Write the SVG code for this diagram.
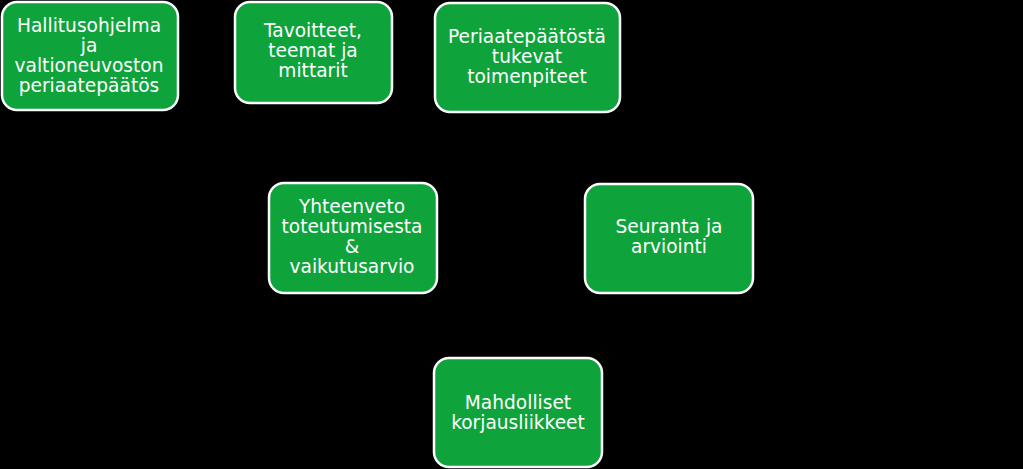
<svg xmlns="http://www.w3.org/2000/svg" width="1023" height="469" viewBox="0 0 1023 469">
<style>
.box{fill:#0ea43b;stroke:#ffffff;stroke-width:2.5}
.t{font-family:"DejaVu Sans",Verdana,sans-serif;font-size:18.6px;fill:#ffffff;text-anchor:middle}
</style>
<rect width="1023" height="469" fill="#000000"/>
<g id="connectors"></g>
<g id="n1"><rect class="box" x="2" y="2" width="176" height="108" rx="15"/>
<text class="t" x="89" y="32">Hallitusohjelma</text><text class="t" x="89" y="52">ja</text><text class="t" x="89" y="72">valtioneuvoston</text><text class="t" x="89" y="92">periaatepäätös</text></g>
<g id="n2"><rect class="box" x="235" y="2" width="157" height="101" rx="15"/>
<text class="t" x="313" y="37">Tavoitteet,</text><text class="t" x="313" y="57">teemat ja</text><text class="t" x="313" y="77">mittarit</text></g>
<g id="n3"><rect class="box" x="435" y="3" width="185" height="109" rx="15"/>
<text class="t" x="527" y="43">Periaatepäätöstä</text><text class="t" x="527" y="63">tukevat</text><text class="t" x="527" y="83">toimenpiteet</text></g>
<g id="n4"><rect class="box" x="585" y="184" width="168" height="109" rx="15"/>
<text class="t" x="669" y="233">Seuranta ja</text><text class="t" x="669" y="253">arviointi</text></g>
<g id="n5"><rect class="box" x="269" y="183" width="168" height="110" rx="15"/>
<text class="t" x="352" y="213">Yhteenveto</text><text class="t" x="352" y="233">toteutumisesta</text><text class="t" x="352" y="253">&amp;</text><text class="t" x="352" y="273">vaikutusarvio</text></g>
<g id="n6"><rect class="box" x="434" y="358" width="168" height="109" rx="15"/>
<text class="t" x="518" y="409">Mahdolliset</text><text class="t" x="518" y="429">korjausliikkeet</text></g>
</svg>
